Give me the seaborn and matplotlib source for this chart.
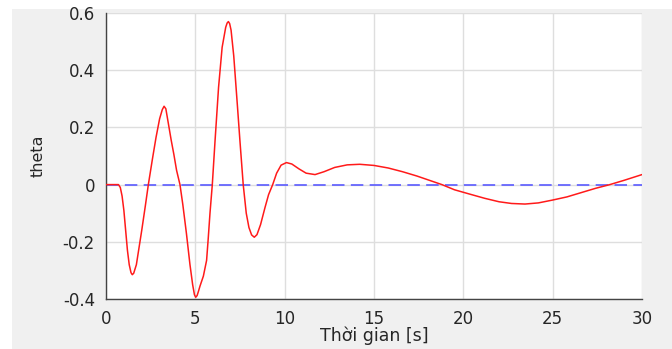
import matplotlib
matplotlib.use("Agg")
import matplotlib.pyplot as plt
import seaborn as sns
import pandas as pd
from matplotlib.patches import Rectangle

# ---- data ----
time_s = [0.0, 0.5, 0.7, 0.8, 0.9, 1.0, 1.1, 1.2, 1.3, 1.4, 1.47, 1.55, 1.7, 1.85,
          2.0, 2.2, 2.37, 2.6, 2.8, 3.0, 3.15, 3.25, 3.35, 3.5, 3.65, 3.8, 3.95,
          4.14, 4.3, 4.5, 4.7, 4.85, 4.95, 5.02, 5.1, 5.18, 5.26, 5.45, 5.63, 5.72, 5.82,
          5.95, 6.1, 6.3, 6.5, 6.7, 6.78, 6.85, 6.92, 7.0, 7.15, 7.35, 7.5, 7.68, 7.85, 8.0,
          8.15, 8.3, 8.45, 8.65, 8.9, 9.1, 9.33, 9.55, 9.8, 10.1, 10.4, 10.8,
          11.2, 11.7, 12.2, 12.8, 13.5, 14.2, 15.0, 15.8, 16.6, 17.4, 18.1,
          18.8, 19.5, 20.4, 21.2, 22.0, 22.7, 23.45, 24.2, 25.0, 25.8, 26.6,
          27.4, 28.2, 29.0, 29.5, 30.0]
theta = [0.0, 0.0, 0.0, -0.01, -0.04, -0.09, -0.16, -0.23, -0.28, -0.308, -0.315,
         -0.31, -0.28, -0.22, -0.16, -0.075, 0.0, 0.09, 0.165, 0.23, 0.262, 0.274,
         0.265, 0.21, 0.155, 0.105, 0.05, 0.0, -0.07, -0.17, -0.28, -0.35, -0.385,
         -0.394, -0.388, -0.372, -0.355, -0.32, -0.265, -0.19, -0.1, 0.0, 0.15, 0.34, 0.48,
         0.55, 0.565, 0.57, 0.563, 0.54, 0.45, 0.28, 0.15, 0.0, -0.1, -0.15, -0.176, -0.184,
         -0.175, -0.14, -0.08, -0.035, 0.0, 0.04, 0.068, 0.077, 0.072, 0.055,
         0.04, 0.035, 0.045, 0.06, 0.069, 0.071, 0.067, 0.058, 0.045, 0.03,
         0.015, 0.0, -0.018, -0.034, -0.048, -0.06, -0.066, -0.068, -0.064,
         -0.054, -0.043, -0.028, -0.013, 0.0, 0.015, 0.025, 0.035]
reference = 0.0
x_ticks = [0, 5, 10, 15, 20, 25, 30]
y_ticks = [-0.4, -0.2, 0, 0.2, 0.4, 0.6]
y_tick_labels = ["-0.4", "-0.2", "0", "0.2", "0.4", "0.6"]
x_label = "Thời gian [s]"
y_label = "theta"

df = pd.DataFrame({"t": time_s, "theta": theta})

sns.set_style("white")
plt.rcParams["font.family"] = ["DejaVu Sans"]

W, H = 672, 349
fig = plt.figure(figsize=(W / 100, H / 100), dpi=100, facecolor="white")
fig.patches.append(Rectangle((12 / W, 0), 1 - 12 / W, (H - 9) / H,
                             transform=fig.transFigure, facecolor="#f0f0f0",
                             edgecolor="none", zorder=-10))
ax = fig.add_axes([106 / W, (H - 299) / H, (642 - 106) / W, (299 - 13) / H])
ax.set_facecolor("white")

ax.axhline(reference, color="#5a5aff", lw=1.2, dashes=(7.5, 3.8), zorder=2)
sns.lineplot(data=df, x="t", y="theta", ax=ax, color="#ff1a1a", lw=1.1,
             zorder=3, sort=False)

ax.set_xlim(0, 30)
ax.set_ylim(-0.4, 0.6)
ax.set_xticks(x_ticks)
ax.set_xticklabels([str(v) for v in x_ticks])
ax.set_yticks(y_ticks)
ax.set_yticklabels(y_tick_labels)
ax.grid(True, color="#dedede", lw=1.0)
ax.set_axisbelow(True)
for s in ["top", "right"]:
    ax.spines[s].set_visible(False)
for s in ["left", "bottom"]:
    ax.spines[s].set_color("#444444")
    ax.spines[s].set_linewidth(1.0)
ax.tick_params(direction="in", length=4, width=0.8, color="#444444",
               labelsize=12, labelcolor="#262626")
ax.tick_params(axis="y", pad=8)
ax.tick_params(axis="x", pad=8)
ax.set_xlabel(x_label, fontsize=12.5, color="#262626", labelpad=-1)
ax.set_ylabel(y_label, fontsize=11.5, color="#262626", labelpad=12)

fig.savefig("out.png", dpi=100, facecolor="white")
